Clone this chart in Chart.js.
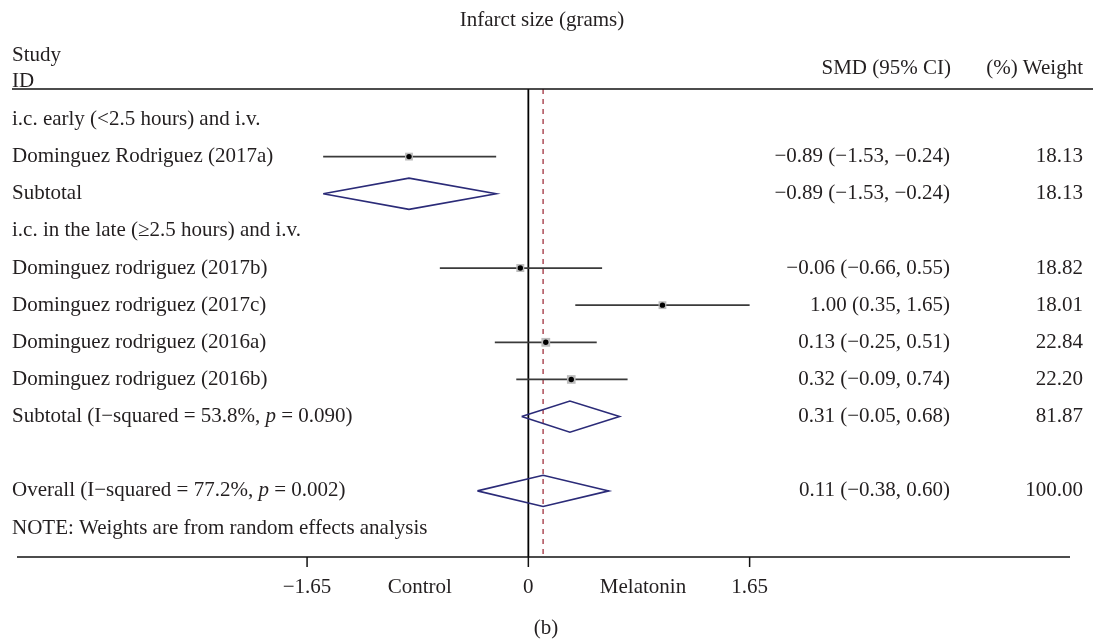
<!DOCTYPE html>
<html>
<head>
<meta charset="utf-8">
<script src="https://cdn.jsdelivr.net/npm/chart.js@4.4.1/dist/chart.umd.min.js"></script>
<style>
  html, body { margin: 0; padding: 0; background: #fff; }
  #wrap { width: 1093px; height: 640px; }
</style>
</head>
<body>
<div id="wrap"><canvas id="forest" width="1093" height="640"></canvas></div>
<script>
// rows, top to bottom; '*' marks italic text
const rowLabels = [
    'i.c. early (<2.5 hours) and i.v.',
    'Dominguez Rodriguez (2017a)',
    'Subtotal',
    'i.c. in the late (\u22652.5 hours) and i.v.',
    'Dominguez rodriguez (2017b)',
    'Dominguez rodriguez (2017c)',
    'Dominguez rodriguez (2016a)',
    'Dominguez rodriguez (2016b)',
    'Subtotal (I\u2212squared = 53.8%, *p* = 0.090)',
    '',
    'Overall (I\u2212squared = 77.2%, *p* = 0.002)',
    'NOTE: Weights are from random effects analysis'
];
const rowKinds = ['group', 'study', 'sub', 'group', 'study', 'study', 'study', 'study', 'sub', 'blank', 'sub', 'note'];
const smd     = [null, -0.89, -0.89, null, -0.06, 1.00, 0.13, 0.32, 0.31, null, 0.11, null];
const ciLow   = [null, -1.53, -1.53, null, -0.66, 0.35, -0.25, -0.09, -0.05, null, -0.38, null];
const ciHigh  = [null, -0.24, -0.24, null, 0.55, 1.65, 0.51, 0.74, 0.68, null, 0.60, null];
const weights = [null, 18.13, 18.13, null, 18.82, 18.01, 22.84, 22.20, 81.87, null, 100.00, null];
const xTicks = [-1.65, 0, 1.65];
const xTickLabels = ['\u22121.65', '0', '1.65'];
const overallEffect = 0.11;

const FONT = '"Liberation Serif", "DejaVu Serif", serif';
const TEXT = '#231f20';

function fmt(v) {
    const s = Math.abs(v).toFixed(2);
    return v < 0 ? '\u2212' + s : s;
}

const studyRows = rowKinds.map((k, i) => k === 'study' ? i : -1).filter(i => i >= 0);
const diamondRows = rowKinds.map((k, i) => k === 'sub' ? i : -1).filter(i => i >= 0);

const datasets = [];
datasets.push({
    label: 'estimate',
    data: studyRows.map(i => ({ x: smd[i], y: i })),
    pointStyle: 'circle',
    pointRadius: 2.7,
    backgroundColor: '#000',
    borderWidth: 0,
    order: 0
});
datasets.push({
    label: 'weight box',
    data: studyRows.map(i => ({ x: smd[i], y: i })),
    pointStyle: 'rect',
    pointRadius: studyRows.map(i => 1.3 * Math.sqrt(weights[i])),
    backgroundColor: '#bcbcbc',
    borderWidth: 0,
    order: 1
});
studyRows.forEach(i => {
    datasets.push({
        label: 'ci ' + i,
        data: [{ x: ciLow[i], y: i }, { x: ciHigh[i], y: i }],
        showLine: true,
        borderColor: '#3a3a3a',
        borderWidth: 1.8,
        pointRadius: 0,
        order: 2
    });
});
diamondRows.forEach(i => {
    datasets.push({
        label: 'diamond ' + i,
        data: [
            { x: ciLow[i], y: i },
            { x: smd[i], y: i - 0.42 },
            { x: ciHigh[i], y: i },
            { x: smd[i], y: i + 0.42 },
            { x: ciLow[i], y: i }
        ],
        showLine: true,
        fill: false,
        tension: 0,
        borderColor: '#2b2b78',
        borderWidth: 1.6,
        pointRadius: 0,
        order: 3
    });
});

function drawRich(ctx, text, x, y) {
    const parts = text.split('*');
    let cx = x;
    parts.forEach((p, n) => {
        ctx.font = (n % 2 ? 'italic ' : '') + '21px ' + FONT;
        ctx.fillText(p, cx, y);
        cx += ctx.measureText(p).width;
    });
}

const refLines = {
    id: 'refLines',
    beforeDatasetsDraw(chart) {
        const { ctx, chartArea, scales } = chart;
        const x0 = scales.x.getPixelForValue(0);
        const xe = scales.x.getPixelForValue(overallEffect);
        ctx.save();
        ctx.strokeStyle = '#000';
        ctx.lineWidth = 1.8;
        ctx.beginPath();
        ctx.moveTo(x0, chartArea.top);
        ctx.lineTo(x0, chartArea.bottom);
        ctx.stroke();
        ctx.strokeStyle = '#a8404c';
        ctx.lineWidth = 1.4;
        ctx.setLineDash([5, 5]);
        ctx.beginPath();
        ctx.moveTo(xe, chartArea.top);
        ctx.lineTo(xe, chartArea.bottom);
        ctx.stroke();
        ctx.restore();
    }
};

const textLayer = {
    id: 'textLayer',
    afterDraw(chart) {
        const { ctx, chartArea, scales } = chart;
        const top = chartArea.top, bottom = chartArea.bottom;
        ctx.save();
        ctx.fillStyle = TEXT;
        ctx.textBaseline = 'middle';
        ctx.font = '21px ' + FONT;

        // title and headers
        ctx.textAlign = 'center';
        ctx.fillText('Infarct size (grams)', 542, 20);
        ctx.textAlign = 'left';
        ctx.fillText('Study', 12, top - 34);
        ctx.fillText('ID', 12, top - 8);
        ctx.textAlign = 'right';
        ctx.fillText('SMD (95% CI)', 951, top - 21);
        ctx.fillText('(%) Weight', 1083, top - 21);

        // header rule
        ctx.strokeStyle = '#111';
        ctx.lineWidth = 1.5;
        ctx.beginPath();
        ctx.moveTo(12, top);
        ctx.lineTo(1093, top);
        ctx.stroke();

        // rows
        rowLabels.forEach((lab, i) => {
            const y = scales.y.getPixelForValue(i);
            ctx.textAlign = 'left';
            if (lab) drawRich(ctx, lab, 12, y);
            if (smd[i] !== null) {
                ctx.font = '21px ' + FONT;
                ctx.textAlign = 'right';
                ctx.fillText(fmt(smd[i]) + ' (' + fmt(ciLow[i]) + ', ' + fmt(ciHigh[i]) + ')', 950, y);
                ctx.fillText(weights[i].toFixed(2), 1083, y);
            }
        });

        // x axis
        ctx.strokeStyle = '#111';
        ctx.lineWidth = 1.5;
        ctx.beginPath();
        ctx.moveTo(chartArea.left, bottom);
        ctx.lineTo(chartArea.right, bottom);
        ctx.stroke();
        ctx.font = '21px ' + FONT;
        ctx.textAlign = 'center';
        xTicks.forEach((t, n) => {
            const px = scales.x.getPixelForValue(t);
            ctx.beginPath();
            ctx.moveTo(px, bottom);
            ctx.lineTo(px, bottom + 10);
            ctx.stroke();
            ctx.fillText(xTickLabels[n], px, bottom + 30);
        });
        ctx.fillText('Control', scales.x.getPixelForValue(-0.81), bottom + 30);
        ctx.fillText('Melatonin', scales.x.getPixelForValue(0.855), bottom + 30);
        ctx.fillText('(b)', 546, 628);
        ctx.restore();
    }
};

new Chart(document.getElementById('forest'), {
    type: 'scatter',
    data: { datasets: datasets },
    options: {
        responsive: false,
        animation: false,
        events: [],
        layout: { padding: { left: 17, right: 23, top: 89, bottom: 83 } },
        scales: {
            x: { type: 'linear', display: false, min: -3.813, max: 4.039 },
            y: { type: 'linear', display: false, min: -0.82, max: 11.78, reverse: true }
        },
        plugins: {
            legend: { display: false },
            tooltip: { enabled: false }
        }
    },
    plugins: [refLines, textLayer]
});
</script>
</body>
</html>
